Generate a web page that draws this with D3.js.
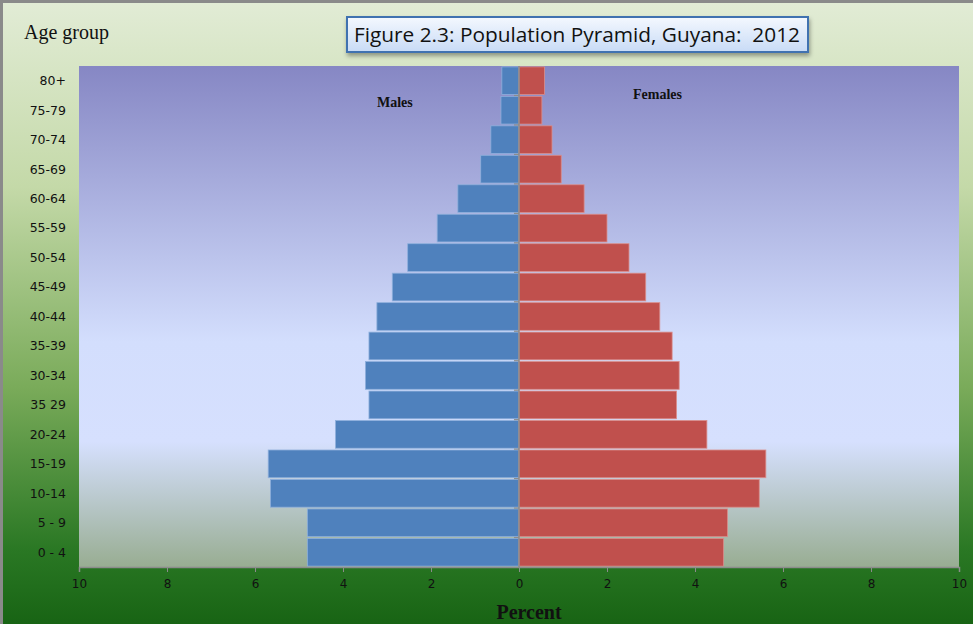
<!DOCTYPE html>
<html>
<head>
<meta charset="utf-8">
<script src="https://cdnjs.cloudflare.com/ajax/libs/d3/7.8.5/d3.min.js"></script>
<style>
  body { margin: 0; padding: 0; background: #fff; }
  svg { display: block; }
</style>
</head>
<body>
<div id="chart"></div>
<script>
var ageGroups = ['80+','75-79','70-74','65-69','60-64','55-59','50-54','45-49','40-44','35-39','30-34','35 29','20-24','15-19','10-14','5 - 9','0 - 4'];
var males   = [0.39, 0.41, 0.64, 0.87, 1.39, 1.86, 2.53, 2.88, 3.23, 3.41, 3.49, 3.41, 4.17, 5.70, 5.65, 4.81, 4.81];
var females = [0.58, 0.52, 0.75, 0.96, 1.48, 2.00, 2.50, 2.88, 3.20, 3.48, 3.64, 3.58, 4.27, 5.61, 5.46, 4.74, 4.65];
var xTicks = [-10, -8, -6, -4, -2, 0, 2, 4, 6, 8, 10];

var width = 973, height = 624;
var margin = { top: 66, right: 14, bottom: 57, left: 79 };

var svg = d3.select("#chart").append("svg")
    .attr("width", width)
    .attr("height", height);

var defs = svg.append("defs");

var outerGrad = defs.append("linearGradient").attr("id", "outerGrad")
    .attr("x1", 0).attr("y1", 0).attr("x2", 0).attr("y2", 1);
outerGrad.append("stop").attr("offset", "0%").attr("stop-color", "#e2ecd6");
outerGrad.append("stop").attr("offset", "30%").attr("stop-color", "#c4d9a8");
outerGrad.append("stop").attr("offset", "62%").attr("stop-color", "#7aab5a");
outerGrad.append("stop").attr("offset", "88%").attr("stop-color", "#2a7824");
outerGrad.append("stop").attr("offset", "100%").attr("stop-color", "#186414");

var plotGrad = defs.append("linearGradient").attr("id", "plotGrad")
    .attr("x1", 0).attr("y1", 0).attr("x2", 0).attr("y2", 1);
plotGrad.append("stop").attr("offset", "0%").attr("stop-color", "#8687c4");
plotGrad.append("stop").attr("offset", "55%").attr("stop-color", "#d3defd");
plotGrad.append("stop").attr("offset", "75%").attr("stop-color", "#d6e0fe");
plotGrad.append("stop").attr("offset", "100%").attr("stop-color", "#98ad92");

var titleGrad = defs.append("linearGradient").attr("id", "titleGrad")
    .attr("x1", 0).attr("y1", 0).attr("x2", 0).attr("y2", 1);
titleGrad.append("stop").attr("offset", "0%").attr("stop-color", "#f4f8fe");
titleGrad.append("stop").attr("offset", "100%").attr("stop-color", "#c8dbf6");

var shadow = defs.append("filter").attr("id", "shadow")
    .attr("x", "-10%").attr("y", "-30%").attr("width", "120%").attr("height", "170%");
shadow.append("feDropShadow").attr("dx", 1).attr("dy", 3).attr("stdDeviation", 2)
    .attr("flood-color", "#000").attr("flood-opacity", 0.35);

// chart background + frame
svg.append("rect")
    .attr("x", 0).attr("y", 0).attr("width", width).attr("height", height)
    .attr("fill", "url(#outerGrad)");
svg.append("rect")
    .attr("x", 1.5).attr("y", 1.5).attr("width", width + 10).attr("height", height + 10)
    .attr("fill", "none").attr("stroke", "#8a8a8a").attr("stroke-width", 3);

var plotW = width - margin.left - margin.right;
var plotH = height - margin.top - margin.bottom;

var xScale = d3.scaleLinear().domain([-10, 10]).range([margin.left, margin.left + plotW]);
var yScale = d3.scaleBand().domain(ageGroups)
    .range([margin.top, margin.top + plotH]).paddingInner(0.06).paddingOuter(0.03);

svg.append("rect")
    .attr("x", margin.left).attr("y", margin.top)
    .attr("width", plotW).attr("height", plotH)
    .attr("fill", "url(#plotGrad)");

// bars
var rowsM = ageGroups.map(function(a, i){ return { age: a, v: males[i] }; });
var rowsF = ageGroups.map(function(a, i){ return { age: a, v: females[i] }; });

svg.selectAll(".male").data(rowsM).enter().append("rect")
    .attr("class", "male")
    .attr("x", function(d){ return xScale(-d.v); })
    .attr("y", function(d){ return yScale(d.age); })
    .attr("width", function(d){ return xScale(0) - xScale(-d.v); })
    .attr("height", yScale.bandwidth())
    .style("fill", "#4f81bd")
    .style("stroke", "#8fb0dc")
    .style("stroke-width", 0.8);

svg.selectAll(".female").data(rowsF).enter().append("rect")
    .attr("class", "female")
    .attr("x", xScale(0))
    .attr("y", function(d){ return yScale(d.age); })
    .attr("width", function(d){ return xScale(d.v) - xScale(0); })
    .attr("height", yScale.bandwidth())
    .style("fill", "#c0504d")
    .style("stroke", "#d98e8c")
    .style("stroke-width", 0.8);

// x axis
var xAxis = d3.axisBottom(xScale)
    .tickValues(xTicks)
    .tickSize(5)
    .tickFormat(function(d){ return Math.abs(d); });
var gx = svg.append("g")
    .attr("transform", "translate(0," + (margin.top + plotH) + ")")
    .call(xAxis);
gx.select(".domain").attr("stroke", "#8c8c8c").attr("stroke-width", 1.5);
gx.selectAll(".tick line").attr("stroke", "#8c8c8c");
gx.selectAll(".tick text")
    .attr("dy", "1.1em")
    .style("font-family", "'DejaVu Sans', sans-serif")
    .style("font-size", "12px")
    .attr("fill", "#111");

// centre axis with category ticks
svg.append("line")
    .attr("x1", xScale(0)).attr("x2", xScale(0))
    .attr("y1", margin.top).attr("y2", margin.top + plotH)
    .attr("stroke", "#8c8c8c").attr("stroke-width", 1.5);
svg.selectAll(".cattick").data(ageGroups.slice(1)).enter().append("line")
    .attr("class", "cattick")
    .attr("x1", xScale(0) - 5).attr("x2", xScale(0))
    .attr("y1", function(d){ return yScale(d) - yScale.step() * yScale.paddingInner() / 2; })
    .attr("y2", function(d){ return yScale(d) - yScale.step() * yScale.paddingInner() / 2; })
    .attr("stroke", "#8c8c8c").attr("stroke-width", 1.2);

// age labels on the left
svg.selectAll(".agelab").data(ageGroups).enter().append("text")
    .attr("class", "agelab")
    .attr("x", 66)
    .attr("y", function(d){ return yScale(d) + yScale.bandwidth() / 2; })
    .attr("dy", "0.35em")
    .attr("text-anchor", "end")
    .style("font-family", "'DejaVu Sans', sans-serif")
    .style("font-size", "12.5px")
    .attr("fill", "#111")
    .text(function(d){ return d; });

// texts
svg.append("text")
    .attr("x", 24).attr("y", 39)
    .style("font-family", "'Liberation Serif', serif")
    .style("font-size", "20px")
    .attr("fill", "#111")
    .text("Age group");

svg.append("text")
    .attr("x", 377).attr("y", 107)
    .style("font-family", "'Liberation Serif', serif")
    .style("font-weight", "bold")
    .style("font-size", "14px")
    .attr("fill", "#111")
    .text("Males");

svg.append("text")
    .attr("x", 633).attr("y", 99)
    .style("font-family", "'Liberation Serif', serif")
    .style("font-weight", "bold")
    .style("font-size", "14px")
    .attr("fill", "#111")
    .text("Females");

svg.append("text")
    .attr("x", 529).attr("y", 619)
    .attr("text-anchor", "middle")
    .style("font-family", "'Liberation Serif', serif")
    .style("font-weight", "bold")
    .style("font-size", "20px")
    .attr("fill", "#111")
    .text("Percent");

// title box
svg.append("rect")
    .attr("x", 347).attr("y", 17).attr("width", 461).attr("height", 35)
    .attr("fill", "url(#titleGrad)")
    .attr("stroke", "#3f72b0").attr("stroke-width", 2)
    .attr("filter", "url(#shadow)");
svg.append("text")
    .attr("x", 577).attr("y", 42)
    .attr("text-anchor", "middle")
    .style("font-family", "'Open Sans', 'Noto Sans', sans-serif")
    .style("font-size", "20px")
    .attr("textLength", 446)
    .attr("lengthAdjust", "spacingAndGlyphs")
    .attr("fill", "#111")
    .style("white-space", "pre")
    .text("Figure 2.3: Population Pyramid, Guyana:  2012");
</script>
</body>
</html>
